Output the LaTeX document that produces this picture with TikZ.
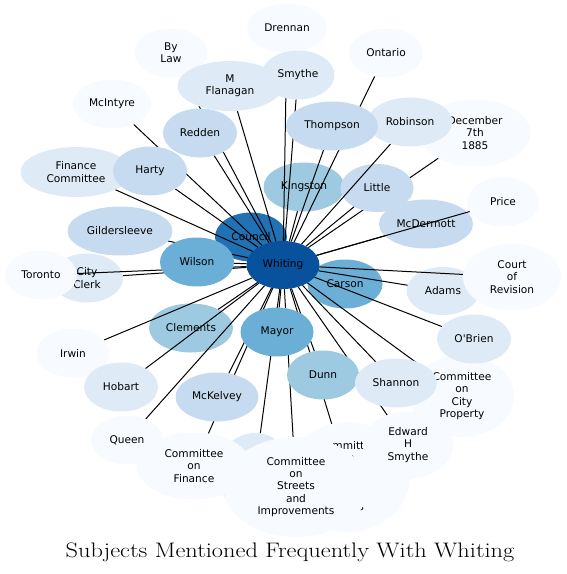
\documentclass[tikz,border=0pt]{standalone}
\usepackage{fontspec}
\newfontfamily\nodefont{DejaVu Sans}
\usetikzlibrary{shapes.geometric}
\definecolor{b1}{HTML}{F7FBFF}
\definecolor{b2}{HTML}{DEEBF7}
\definecolor{b3}{HTML}{C6DBEF}
\definecolor{b4}{HTML}{9ECAE1}
\definecolor{b5}{HTML}{6BAED6}
\definecolor{b7}{HTML}{2171B5}
\definecolor{b8}{HTML}{08519C}
\pgfdeclarelayer{bottom}
\pgfdeclarelayer{bg}
\pgfdeclarelayer{mid}
\pgfsetlayers{bottom,bg,mid,main}
\begin{document}
\begin{tikzpicture}[x=1pt,y=-1pt,
  nd/.style={ellipse, draw=none, inner sep=0pt, outer sep=0pt, align=center,
    font=\nodefont\fontsize{10.6}{12.2}\selectfont, text=black},
  sz/.style 2 args={minimum width=#1pt, minimum height=#2pt},
  edge/.style={draw=black, line width=1pt},
  titlefont/.style={font=\fontsize{21}{25}\selectfont}
]
\useasboundingbox (0,0) rectangle (566,574);

% ---- nodes lying below the connectors
\begin{pgfonlayer}{bg}
\node[nd, fill=b4, sz={81}{49}] (kingston) at (304,187) {Kingston};
\node[nd, fill=b3, sz={73}{48}] (little) at (377,188) {Little};
\node[nd, fill=b3, sz={94}{49}] (mcdermott) at (426,224) {McDermott};
\node[nd, fill=b7, sz={72}{49}] (council) at (251,237) {Council};
\node[nd, fill=b5, sz={75}{49}] (carson) at (345,284) {Carson};
\node[nd, fill=b4, sz={84}{49}] (clements) at (191,328) {Clements};
\node[nd, fill=b2, sz={72}{49}] (cityclerk) at (87,278) {City\\Clerk};
\node[nd, fill=b2, sz={73}{48}] (adams) at (443,291) {Adams};
\end{pgfonlayer}

% ---- nodes lying above the connectors
\node[nd, fill=b1, sz={80}{49}] (drennan) at (287,28) {Drennan};
\node[nd, fill=b1, sz={73}{49}] (bylaw) at (171,53) {By\\Law};
\node[nd, fill=b1, sz={74}{49}] (ontario) at (386,53) {Ontario};
\node[nd, fill=b1, sz={78}{49}] (mcintyre) at (112,104) {McIntyre};
\node[nd, fill=b2, sz={105}{50}] (flanagan) at (230,86) {M\\Flanagan};
\node[nd, fill=b2, sz={73}{49}] (smythe) at (298,75) {Smythe};
\node[nd, fill=b1, sz={111}{67}] (december) at (475,133) {December\\7th\\1885};
\node[nd, fill=b2, sz={85}{49}] (robinson) at (410,122) {Robinson};
\node[nd, fill=b3, sz={92}{49}] (thompson) at (332,126) {Thompson};
\node[nd, fill=b3, sz={74}{49}] (redden) at (200,133) {Redden};
\node[nd, fill=b2, sz={111}{50}] (finance) at (76,172) {Finance\\Committee};
\node[nd, fill=b3, sz={74}{49}] (harty) at (150,171) {Harty};
\node[nd, fill=b3, sz={105}{49}] (gilder) at (120,231) {Gildersleeve};
\node[nd, fill=b1, sz={72}{49}] (price) at (503,202) {Price};
\node[nd, fill=b1, sz={98}{67}] (court) at (512,277) {Court\\of\\Revision};
\node[nd, fill=b1, sz={72}{49}] (toronto) at (41,275) {Toronto};
\node[nd, fill=b5, sz={74}{49}] (wilson) at (197,262) {Wilson};
\node[nd, fill=b8, sz={73}{48}] (whiting) at (283,265) {Whiting};
\node[nd, fill=b1, sz={73}{49}] (irwin) at (73,353) {Irwin};
\node[nd, fill=b2, sz={74}{49}] (hobart) at (121,387) {Hobart};
\node[nd, fill=b1, sz={72}{49}] (queen) at (127,440) {Queen};
\node[nd, fill=b3, sz={83}{49}] (mckelvey) at (217,397) {McKelvey};
\node[nd, fill=b5, sz={73}{49}] (mayor) at (277,332) {Mayor};
\node[nd, fill=b4, sz={72}{49}] (dunn) at (323,375) {Dunn};
\node[nd, fill=b1, sz={104}{82}] (property) at (462,396) {Committee\\on\\City\\Property};
\node[nd, fill=b2, sz={74}{49}] (obrien) at (474,339) {O'Brien};
\node[nd, fill=b2, sz={82}{49}] (shannon) at (396,383) {Shannon};
\node[nd, fill=b2, sz={76}{80}] (hiddena) at (255,473) {};
\node[nd, fill=b1, sz={124}{110}] (hiddenb) at (348,477) {Committee\\on\\Fire\\Water\\and\\Lights};
\node[nd, fill=b1, sz={115}{67}] (cfinance) at (194,466) {Committee\\on\\Finance};
\node[nd, fill=b1, sz={145}{100}] (streets) at (296,487) {Committee\\on\\Streets\\and\\Improvements};
\node[nd, fill=b1, sz={90}{67}] (edward) at (408,445) {Edward\\H\\Smythe};

\node[titlefont, anchor=base, inner sep=0pt] (title) at (290,557)
  {\scalebox{1.16}[1]{Subjects Mentioned Frequently With Whiting}};

% ---- connectors
\begin{pgfonlayer}{bottom}
\draw[edge] (whiting) -- (december);
\end{pgfonlayer}
\begin{pgfonlayer}{mid}
\foreach \t in {kingston,little,mcdermott,council,carson,clements,cityclerk,adams,
  drennan,bylaw,ontario,mcintyre,flanagan,smythe,robinson,thompson,redden,finance,
  harty,gilder,price,court,toronto,wilson,irwin,hobart,queen,mckelvey,mayor,dunn,
  property,obrien,shannon,hiddena,hiddenb,cfinance,streets,edward}
  {\draw[edge] (whiting) -- (\t);}
\end{pgfonlayer}
\end{tikzpicture}
\end{document}
